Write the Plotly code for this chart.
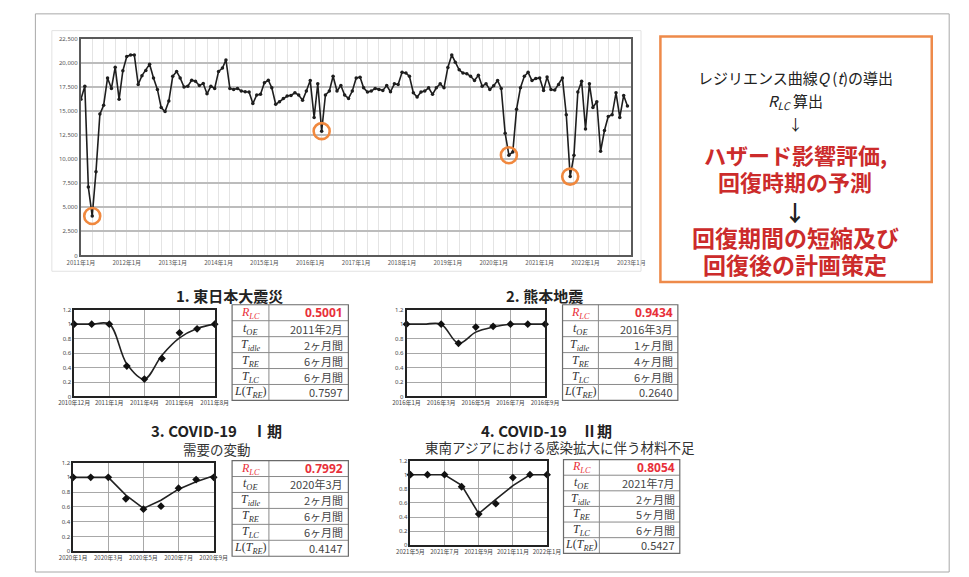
import pandas as pd
import plotly.graph_objects as go

W, H = 969, 577
def px(x): return x / W
def py(y): return 1 - y / H

# ---------------- main chart data (monthly, 2011-01 .. 2022-12) ----------------
months = pd.date_range("2011-01-01", periods=144, freq="MS")
output = [
    16200, 17560, 7090, 4090, 8690, 14660, 15580, 18410, 17320, 19530, 16190, 19160,
    20630, 20800, 20800, 17730, 18650, 19190, 19840, 18410, 17220, 15340, 14930, 16020,
    18580, 19090, 18410, 17460, 17560, 18170, 18070, 17620, 17830, 16770, 17560, 17320,
    19090, 19430, 20280, 17320, 17220, 17320, 17050, 16980, 16950, 15750, 16640, 16710,
    17900, 18170, 17390, 15680, 15950, 16290, 16540, 16600, 16870, 16640, 16090, 17050,
    18140, 14320, 17800, 12890, 16640, 17050, 18580, 17050, 17620, 16640, 16290, 17050,
    18410, 18480, 17390, 16950, 17050, 17320, 17220, 17120, 17620, 16980, 17800, 17730,
    18990, 18920, 18580, 16870, 16430, 16950, 17050, 17390, 16710, 17390, 17800, 17390,
    19500, 20800, 20050, 19260, 18920, 18850, 18580, 18140, 18680, 17560, 17800, 17220,
    17600, 18140, 17320, 12680, 10400, 10740, 15170, 17390, 18580, 18990, 18140, 18340,
    18410, 17120, 18500, 17220, 17150, 17730, 18410, 14590, 8180, 10400, 16950, 18070,
    13120, 17800, 15340, 15950, 10810, 12960, 14420, 14590, 16870, 14320, 16600, 15510,
]
dip_idx = [3, 63, 112, 128]

# ---------------- small panels ----------------
titles = ["1. 東日本大震災", "2. 熊本地震", "3. COVID-19\u3000Ⅰ期", "4. COVID-19\u3000Ⅱ期"]
subtitles = ["", "", "需要の変動", "東南アジアにおける感染拡大に伴う材料不足"]

p1_labels = ["2010年12月", "2011年1月", "2011年4月", "2011年6月", "2011年8月"]
p2_labels = ["2016年1月", "2016年3月", "2016年5月", "2016年7月", "2016年9月"]
p3_labels = ["2020年1月", "2020年3月", "2020年5月", "2020年7月", "2020年9月"]
p4_labels = ["2021年5月", "2021年7月", "2021年9月", "2021年11月", "2022年1月"]

p1_pos = [0, 1, 2, 3, 4, 5, 6, 7, 8]
p1_obs = [1.0, 1.0, 1.0, 0.42, 0.24, 0.525, 0.88, 0.935, 1.0]
p1_fit = [1.0, 1.0, 1.0, 0.45, 0.24, 0.57, 0.81, 0.94, 1.0]

p2_pos = [0, 2, 3, 4, 5, 6, 7, 8]
p2_obs = [1.0, 1.0, 0.735, 0.96, 0.97, 1.0, 1.0, 1.0]
p2_fit_pos = [0, 1, 2, 3, 4, 5, 6, 7, 8]
p2_fit = [1.0, 1.0, 1.0, 0.735, 0.89, 0.96, 1.0, 1.0, 1.0]

p3_pos = [0, 1, 2, 3, 4, 5, 6, 7, 8]
p3_obs = [1.0, 1.0, 1.0, 0.71, 0.57, 0.61, 0.853, 0.97, 1.0]
p3_fit = [1.0, 1.0, 1.0, 0.76, 0.58, 0.69, 0.84, 0.94, 1.02]

p4_pos = [0, 1, 2, 3, 4, 5, 6, 7, 8]
p4_obs = [1.0, 1.0, 1.0, 0.83, 0.443, 0.59, 0.96, 1.0, 1.0]
p4_fit = [1.0, 1.0, 1.0, 0.85, 0.45, 0.65, 0.845, 1.0, 1.0]

# ---------------- tables ----------------
row_labels = ["<i>R<sub>LC</sub></i>", "<i>t<sub>OE</sub></i>", "<i>T<sub>idle</sub></i>",
              "<i>T<sub>RE</sub></i>", "<i>T<sub>LC</sub></i>", "<i>L</i>(<i>T<sub>RE</sub></i>)"]
t1_values = ["0.5001", "2011年2月", "2ヶ月間", "6ヶ月間", "6ヶ月間", "0.7597"]
t2_values = ["0.9434", "2016年3月", "1ヶ月間", "4ヶ月間", "6ヶ月間", "0.2640"]
t3_values = ["0.7992", "2020年3月", "2ヶ月間", "6ヶ月間", "6ヶ月間", "0.4147"]
t4_values = ["0.8054", "2021年7月", "2ヶ月間", "5ヶ月間", "6ヶ月間", "0.5427"]

# ---------------- layout geometry (pixels) ----------------
panel_plot = [(60, 205, 310, 398), (403, 546, 310, 398), (59, 204, 465, 555), (407, 548, 463, 549)]
panel_table = [(223, 261, 343, 305, 402), (564, 601, 683, 305, 402),
               (223, 261, 343, 463, 560), (565, 602, 685, 462, 557)]
title_pos = [(220, 296), (545, 296), (207, 433), (547, 432)]
sub_pos = [None, None, (207, 451), (561, 449)]

JP = "Noto Sans CJK JP"
SERIF = "Liberation Serif"
fig = go.Figure()

# main line
fig.add_trace(go.Scatter(
    x=months, y=output, mode="lines+markers",
    line=dict(color="#1e1e1e", width=1.6),
    marker=dict(size=3.5, color="#1e1e1e"),
    xaxis="x", yaxis="y", showlegend=False, hoverinfo="skip"))
fig.add_trace(go.Scatter(
    x=[months[i] for i in dip_idx], y=[output[i] for i in dip_idx], mode="markers",
    marker=dict(symbol="circle-open", size=16, color="#f0883e", line=dict(width=2.6)),
    xaxis="x", yaxis="y", showlegend=False, hoverinfo="skip"))

layout = dict(
    width=W, height=H, margin=dict(l=0, r=0, t=0, b=0),
    paper_bgcolor="white", plot_bgcolor="white", showlegend=False,
    xaxis=dict(domain=[px(67), px(635)], anchor="y", type="date",
               range=["2011-01-01", "2023-01-01"], tick0="2011-01-01", dtick="M12",
               tickformat="%Y年%-m月", tickfont=dict(size=6, color="#555", family=JP),
               showgrid=True, gridcolor="#e4e4e4", gridwidth=1,
               minor=dict(dtick="M3", tick0="2011-01-01", showgrid=True, gridcolor="#e4e4e4"),
               showline=True, linecolor="#5a5a5a", linewidth=2, mirror=True,
               ticks="", fixedrange=True),
    yaxis=dict(domain=[py(255), py(35)], anchor="x", range=[0, 22500], dtick=2500,
               tickformat=",", tickfont=dict(size=6, color="#555", family="Noto Sans"),
               showgrid=True, gridcolor="#bcbcbc", gridwidth=2, zeroline=False,
               showline=True, linecolor="#5a5a5a", linewidth=2, mirror=True, ticks=""),
)

panels = [
    (p1_pos, p1_obs, p1_pos, p1_fit, p1_labels, "spline"),
    (p2_pos, p2_obs, p2_fit_pos, p2_fit, p2_labels, "spline"),
    (p3_pos, p3_obs, p3_pos, p3_fit, p3_labels, "linear"),
    (p4_pos, p4_obs, p4_pos, p4_fit, p4_labels, "linear"),
]
for k, (opos, obs, fpos, fit, labels, shape) in enumerate(panels):
    n = k + 2
    xa, ya = f"x{n}", f"y{n}"
    fig.add_trace(go.Scatter(x=fpos, y=fit, mode="lines", line=dict(color="#222", width=1.6, shape=shape),
                             xaxis=xa, yaxis=ya, showlegend=False, hoverinfo="skip"))
    fig.add_trace(go.Scatter(x=opos, y=obs, mode="markers", marker=dict(symbol="diamond", size=6, color="#111"),
                             xaxis=xa, yaxis=ya, showlegend=False, hoverinfo="skip", cliponaxis=False))
    x0, x1, y0, y1 = panel_plot[k]
    layout[f"xaxis{n}"] = dict(domain=[px(x0), px(x1)], anchor=ya, range=[0, 8],
                               tickmode="array", tickvals=[0, 2, 4, 6, 8], ticktext=labels,
                               tickfont=dict(size=6, color="#444", family=JP),
                               showgrid=True, gridcolor="#a8a8a8", gridwidth=1, zeroline=False,
                               showline=True, linecolor="#222", linewidth=1.6, mirror=True, ticks="")
    layout[f"yaxis{n}"] = dict(domain=[py(y1), py(y0)], anchor=xa, range=[0, 1.2],
                               tickmode="array", tickvals=[0, 0.2, 0.4, 0.6, 0.8, 1.0, 1.2],
                               ticktext=["0", "0.2", "0.4", "0.6", "0.8", "1", "1.2"],
                               tickfont=dict(size=6, color="#444", family="Noto Sans"),
                               showgrid=True, gridcolor="#a8a8a8", gridwidth=1, zeroline=False,
                               showline=True, linecolor="#222", linewidth=1.6, mirror=True, ticks="")

annotations = []
shapes = []
def ann(text, x, y, size, color="#222", family=JP, xanchor="center"):
    annotations.append(dict(text=text, x=px(x), y=py(y), xref="paper", yref="paper",
                            showarrow=False, xanchor=xanchor, yanchor="middle",
                            font=dict(size=size, color=color, family=family)))
def line(x0, y0, x1, y1, color, width):
    shapes.append(dict(type="line", xref="paper", yref="paper", x0=px(x0), y0=py(y0),
                       x1=px(x1), y1=py(y1), line=dict(color=color, width=width)))

# tables drawn from shapes + text
tables_vals = [t1_values, t2_values, t3_values, t4_values]
for k, vals in enumerate(tables_vals):
    x0, xd, x1, y0, y1 = panel_table[k]
    nrow = len(row_labels)
    rh = (y1 - y0) / nrow
    for r in range(1, nrow):
        line(x0, y0 + r * rh, x1, y0 + r * rh, "#8a8a8a", 1)
    line(xd, y0, xd, y1, "#8a8a8a", 1)
    shapes.append(dict(type="rect", xref="paper", yref="paper", x0=px(x0), x1=px(x1),
                       y0=py(y1), y1=py(y0), line=dict(color="#6a6a6a", width=1.2)))
    for r in range(nrow):
        yc = y0 + (r + 0.5) * rh
        red = (r == 0)
        ann(row_labels[r], (x0 + xd) / 2, yc, 12, "#e8303a" if red else "#333", SERIF)
        txt = "<b>" + vals[r] + "</b>" if red else vals[r]
        ann(txt, x1 - 3, yc, 12 if red else 11, "#e8303a" if red else "#444",
            "Noto Sans" if red else JP, xanchor="right")

for k in range(4):
    ann("<b>" + titles[k] + "</b>", title_pos[k][0], title_pos[k][1], 15, "#222")
    if sub_pos[k]:
        ann(subtitles[k], sub_pos[k][0], sub_pos[k][1], 13.5, "#333")

# right box text
RED = "#cc2b2b"
ann("レジリエンス曲線<i>Q</i> (<i>t</i>)の導出", 804, 75, 15, "#222")
ann("<i>R<sub>LC</sub></i> 算出", 804, 99, 15, "#222")
ann("↓", 804, 121, 15, "#222")
ann("<b>ハザード影響評価,</b>", 804, 152, 22, RED)
ann("<b>回復時期の予測</b>", 804, 179, 22, RED)
ann("<b>↓</b>", 804, 210, 22, "#222")
ann("<b>回復期間の短縮及び</b>", 804, 236, 23, RED)
ann("<b>回復後の計画策定</b>", 804, 264, 23, RED)

shapes += [
    dict(type="rect", xref="paper", yref="paper", x0=px(20), x1=px(963), y0=py(576), y1=py(10),
         line=dict(color="#a8a8a8", width=1)),
    dict(type="rect", xref="paper", yref="paper", x0=px(37), x1=px(645), y0=py(271), y1=py(27),
         line=dict(color="#e2e2e2", width=1)),
    dict(type="rect", xref="paper", yref="paper", x0=px(665), x1=px(945), y0=py(282), y1=py(33),
         line=dict(color="#ee8a4a", width=2.5)),
]
layout["annotations"] = annotations
layout["shapes"] = shapes
fig.update_layout(**layout)
fig.write_html("out.html")
